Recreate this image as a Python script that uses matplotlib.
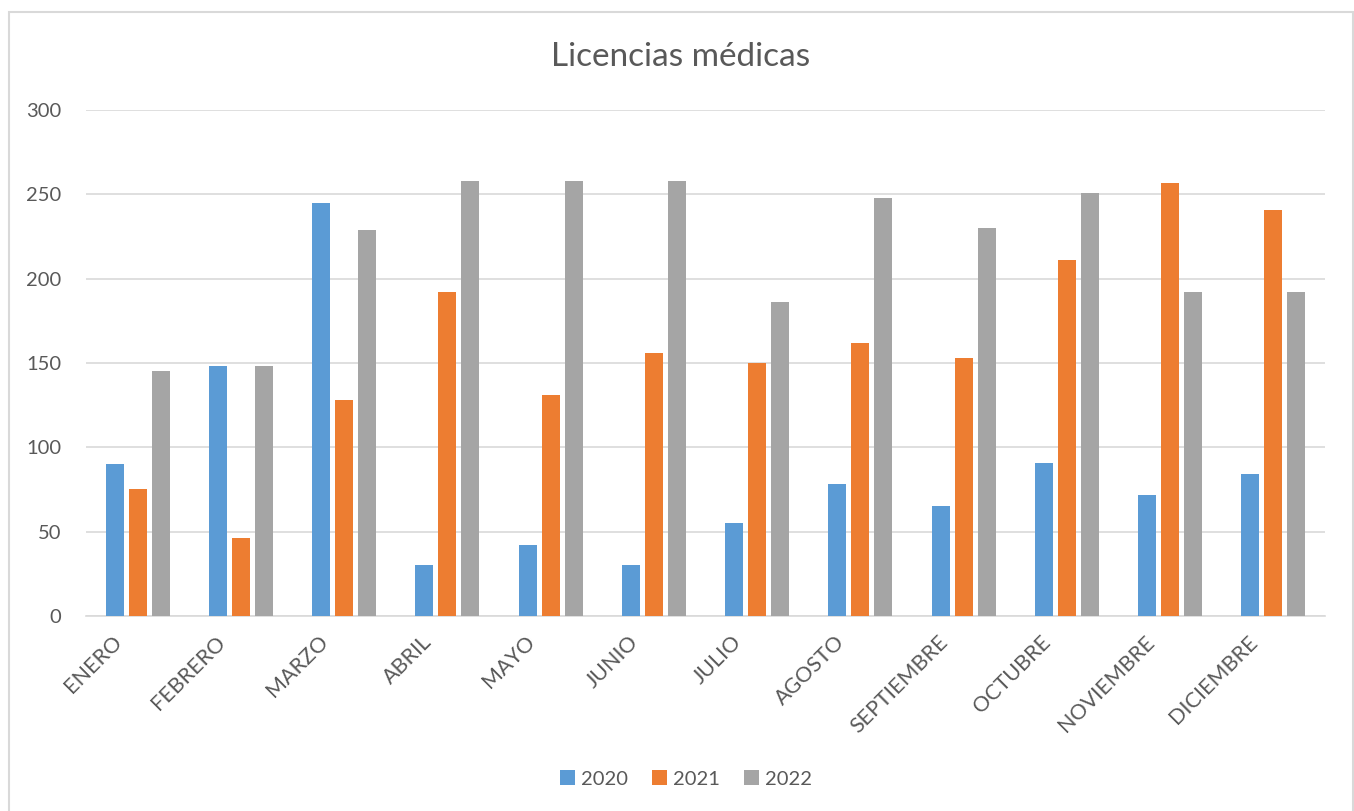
import matplotlib
matplotlib.use("Agg")
import matplotlib.pyplot as plt
import matplotlib.transforms as mtransforms
from matplotlib.patches import Rectangle, Patch
import numpy as np

months = ["ENERO", "FEBRERO", "MARZO", "ABRIL", "MAYO", "JUNIO", "JULIO",
          "AGOSTO", "SEPTIEMBRE", "OCTUBRE", "NOVIEMBRE", "DICIEMBRE"]
years = ["2020", "2021", "2022"]
v2020 = [90, 148, 245, 30, 42, 30, 55, 78, 65, 91, 72, 84]
v2021 = [75, 46, 128, 192, 131, 156, 150, 162, 153, 211, 257, 241]
v2022 = [145, 148, 229, 258, 258, 258, 186, 248, 230, 251, 192, 192]
yticks = [0, 50, 100, 150, 200, 250, 300]

colors = ["#5B9BD5", "#ED7D31", "#A5A5A5"]
text_color = "#595959"
grid_color = "#D9D9D9"

plt.rcParams["font.family"] = ["Lato", "DejaVu Sans"]

W, H = 1354, 811
fig = plt.figure(figsize=(W / 100, H / 100), dpi=100)

# chart border
fig.patches.append(Rectangle((9 / W, -0.05), (1353 - 9) / W, (H - 12) / H + 0.05,
                             transform=fig.transFigure, fill=False,
                             edgecolor="#D9D9D9", linewidth=1.5))

ax = fig.add_axes([86 / W, (H - 616) / H, (1325 - 86) / W, (616 - 110) / H])

x = np.arange(len(months))
step = 0.223
width = 0.174
for i, (vals, c, lab) in enumerate(zip([v2020, v2021, v2022], colors, years)):
    ax.bar(x + (i - 1) * step, vals, width=width, color=c, label=lab, zorder=3)

ax.set_xlim(-0.5, len(months) - 0.5)
ax.set_ylim(0, 300)
ax.set_yticks(yticks)
ax.set_yticklabels([str(t) for t in yticks])
ax.yaxis.grid(True, color=grid_color, linewidth=1.2, zorder=0)
ax.tick_params(axis="y", length=0, pad=18, labelsize=14.5, labelcolor=text_color)
ax.set_xticks([])
for s in ["top", "right", "left"]:
    ax.spines[s].set_visible(False)
ax.spines["bottom"].set_color(grid_color)
ax.spines["bottom"].set_linewidth(1.2)

# rotated month labels
offset = mtransforms.ScaledTranslation(-19 / 100, -23 / 100, fig.dpi_scale_trans)
trans = mtransforms.blended_transform_factory(ax.transData, ax.transAxes) + offset
for xi, m in zip(x, months):
    ax.text(xi, 0, m, transform=trans, rotation=45, rotation_mode="anchor",
            ha="right", va="center", fontsize=15.5, color=text_color)

fig.text(681 / W, 1 - 57 / H, "Licencias médicas", ha="center", va="center",
         fontsize=24, color=text_color)

handles = [Patch(facecolor=c, label=l) for c, l in zip(colors, years)]
fig.legend(handles=handles, loc="center", bbox_to_anchor=(686 / W, 1 - 779 / H),
           ncol=3, frameon=False, fontsize=14.5, labelcolor=text_color,
           handlelength=0.75, handleheight=0.75, handletextpad=0.3,
           columnspacing=1.2)

fig.savefig("out.png", dpi=100, facecolor="white")
